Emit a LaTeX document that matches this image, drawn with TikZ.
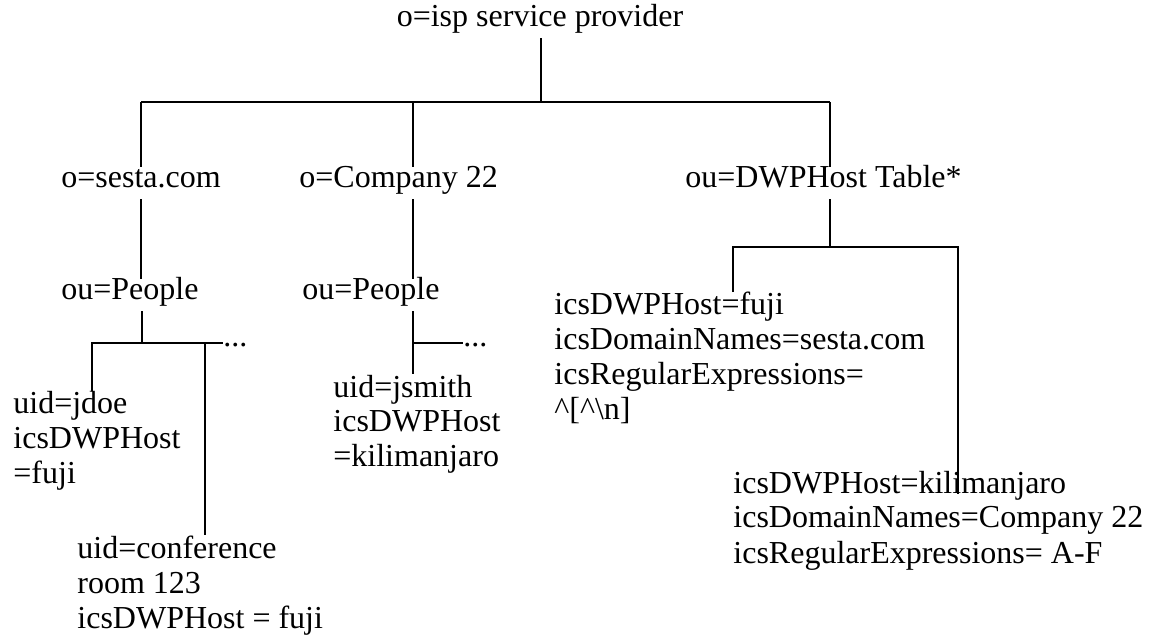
\documentclass[tikz,border=0pt]{standalone}
\usepackage{fontspec}
\setmainfont{Liberation Serif}
\usetikzlibrary{positioning,calc}

\begin{document}
\begin{tikzpicture}[x=0.5pt, y=-0.5pt,
                    every node/.style = {inner sep=0pt, font=\fontsize{16}{17.5}\selectfont},
                    entry/.style = {text height=10.5pt, text depth=5.5pt},
                    attrs/.style = {anchor=base west, align=left},
                    link/.style = {draw=black, line width=1.3pt}]
                \useasboundingbox (0,0) rectangle (1161,640);
                % root
                \node at (540,27) [entry, anchor=base] (isp) {o=isp service provider};
                % second level
                \node at (61,188) [entry, anchor=base west] (sesta) {o=sesta.com};
                \node at (299,188) [entry, anchor=base west] (company) {o=Company 22};
                \node at (685,188) [entry, anchor=base west] (dwp) {ou=DWPHost Table*};
                % people units
                \node at (61,300) [entry, anchor=base west] (people1) {ou=People};
                \node at (302,300) [entry, anchor=base west] (people2) {ou=People};
                \node at (223,347) [anchor=base west] (dots1) {...};
                \node at (463,347) [anchor=base west] (dots2) {...};
                % user entries (placed by their last line)
                \node at (13,484) [attrs] (jdoe) {uid=jdoe\\icsDWPHost\\=fuji};
                \node at (77,628) [attrs] (conference) {uid=conference\\room 123\\icsDWPHost = fuji};
                \node at (333,467) [attrs] (jsmith) {uid=jsmith\\icsDWPHost\\=kilimanjaro};
                % host table entries
                \node at (554,420) [attrs] (fuji) {icsDWPHost=fuji\\icsDomainNames=sesta.com\\icsRegularExpressions=\\\string^[\string^\textbackslash n]};
                \node at (733,563) [attrs] (kili) {icsDWPHost=kilimanjaro\\icsDomainNames=Company 22\\icsRegularExpressions= A-F};
                % junctions
                \coordinate (bus-isp) at (541,102);
                \coordinate (bus-sesta) at (141,102);
                \coordinate (bus-company) at (413,102);
                \coordinate (bus-dwp) at (830,102);
                \coordinate (hosts-left) at (733,247);
                \coordinate (hosts-right) at (958,247);
                \coordinate (staff1) at (142,343);
                \coordinate (staff1-left) at (92,343);
                \coordinate (staff1-right) at (205,343);
                \coordinate (staff2) at (413,343);
                % top level connections
                \draw[link] (isp.south -| bus-isp) -- (bus-isp);
                \draw[link] (bus-sesta) -- (bus-dwp);
                \draw[link] (bus-sesta) -- (bus-sesta |- sesta.north);
                \draw[link] (bus-company) -- (bus-company |- company.north);
                \draw[link] (bus-dwp) -- (bus-dwp |- dwp.north);
                % down to the units
                \draw[link] (sesta.south -| bus-sesta) -- (bus-sesta |- people1.north);
                \draw[link] (company.south -| bus-company) -- (bus-company |- people2.north);
                \draw[link] (dwp.south -| bus-dwp) -- (bus-dwp |- hosts-left);
                \draw[link] (hosts-left |- fuji.north) -- (hosts-left) -- (hosts-right) -- ($(hosts-right |- kili.north)+(0,24)$);
                % users under sesta.com
                \draw[link] (people1.south -| staff1) -- (staff1);
                \draw[link] (staff1-left |- jdoe.north) -- (staff1-left) -- (staff1-left -| dots1.west);
                \draw[link] (staff1-right) -- (staff1-right |- conference.north);
                % users under Company 22
                \draw[link] (people2.south -| staff2) -- (staff2 |- jsmith.north);
                \draw[link] (staff2) -- (staff2 -| dots2.west);
            \end{tikzpicture}
\end{document}
